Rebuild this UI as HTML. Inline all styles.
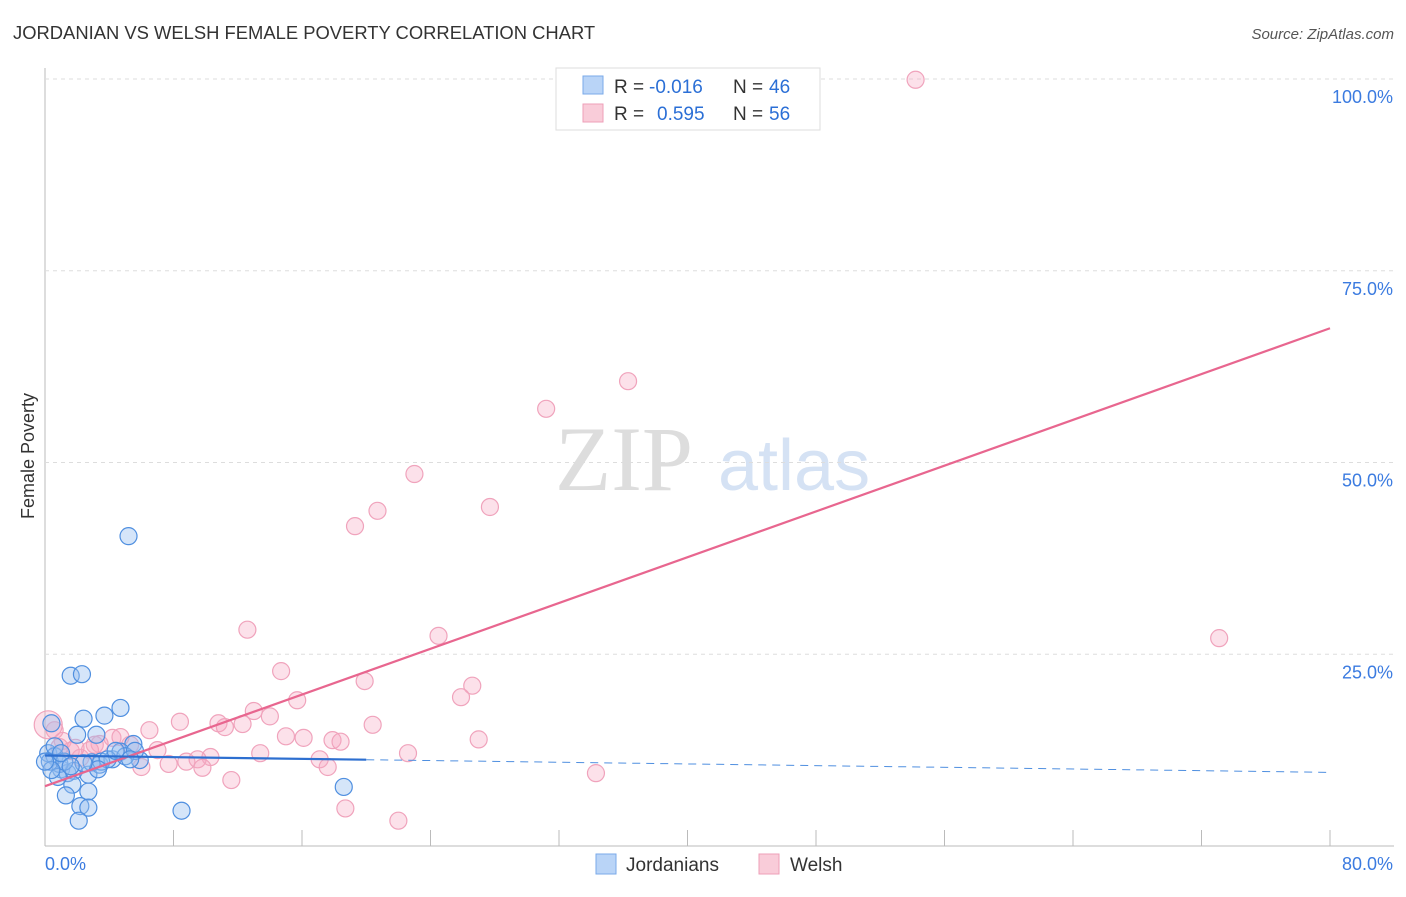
<!DOCTYPE html>
<html><head><meta charset="utf-8"><style>
body{margin:0;background:#fff;font-family:"Liberation Sans",sans-serif}
</style></head><body>
<svg id="c" width="1406" height="892" xmlns="http://www.w3.org/2000/svg">
<text x="13" y="39" font-size="18.4" fill="#333">JORDANIAN VS WELSH FEMALE POVERTY CORRELATION CHART</text>
<text x="1394" y="39" font-size="15" font-style="italic" fill="#555" text-anchor="end">Source: ZipAtlas.com</text>
<text x="34" y="456" font-size="18" fill="#333" text-anchor="middle" transform="rotate(-90 34 456)">Female Poverty</text>
<text x="555" y="490" font-size="92" fill="#ddd" font-family="Liberation Serif,serif">ZIP</text>
<text x="718" y="490" font-size="72" fill="#d5e2f4">atlas</text>
<g id="grid"></g><g id="pts"></g><g id="lines"></g>
<g>
<rect x="556" y="68" width="264" height="62" fill="#fff" stroke="#ddd"/>
<rect x="583" y="76" width="20" height="18" fill="#b9d4f7" stroke="#7aaae8"/>
<rect x="583" y="104" width="20" height="18" fill="#f9ccd9" stroke="#ee9fb8"/>
<text x="614" y="93" font-size="19" fill="#333">R =</text>
<text x="649" y="93" font-size="19" fill="#2b6fd6">-0.016</text>
<text x="733" y="93" font-size="19" fill="#333">N =</text>
<text x="769" y="93" font-size="19" fill="#2b6fd6">46</text>
<text x="614" y="120" font-size="19" fill="#333">R =</text>
<text x="657" y="120" font-size="19" fill="#2b6fd6">0.595</text>
<text x="733" y="120" font-size="19" fill="#333">N =</text>
<text x="769" y="120" font-size="19" fill="#2b6fd6">56</text>
</g>
<g>
<rect x="596" y="854" width="20" height="20" fill="#b9d4f7" stroke="#7aaae8"/>
<text x="626" y="871" font-size="19" fill="#333">Jordanians</text>
<rect x="759" y="854" width="20" height="20" fill="#f9ccd9" stroke="#ee9fb8"/>
<text x="790" y="871" font-size="19" fill="#333">Welsh</text>
</g>
</svg>
<script>
const yTicks=[25,50,75,100];
const yTickLabels=["25.0%","50.0%","75.0%","100.0%"];
const xTicks=[0,8,16,24,32,40,48,56,64,72,80];
const blueX=[5.2,1.6,2.3,4.7,2.4,3.7,2.0,3.2,5.5,0.4,0.2,0.6,1.0,1.4,1.8,2.7,0.9,3.4,4.2,4.7,5.9,1.7,1.3,2.7,2.2,2.7,2.1,8.5,18.6,0.3,0.8,2.9,5.0,5.6,3.5,1.2,0.6,3.9,5.3,3.3,2.4,0.4,1.0,0.0,1.6,4.4];
const blueY=[40.4,22.2,22.4,18.0,16.6,17.0,14.5,14.5,13.3,16.0,12.1,11.7,10.0,9.5,9.8,9.3,10.7,10.6,11.3,12.3,11.2,8.0,6.6,7.1,5.2,5.0,3.3,4.6,7.7,11.0,9.0,10.9,11.7,12.4,11.0,11.0,13.0,11.3,11.3,10.0,10.8,9.9,12.1,11.0,10.4,12.4];
const pinkX=[54.2,36.3,31.2,23.0,27.7,20.7,19.3,12.6,24.5,73.1,14.7,19.9,26.6,15.7,25.9,13.0,14.0,8.4,10.8,11.2,12.3,20.4,6.5,15.0,16.1,17.9,18.4,27.0,13.4,10.3,22.6,7.0,17.1,17.6,8.8,9.5,7.7,6.0,9.8,11.6,34.3,18.7,22.0,4.2,5.3,1.1,1.6,3.1,2.2,0.6,0.2,0.9,3.4,4.7,2.8,1.9];
const pinkY=[99.9,60.6,57.0,48.5,44.2,43.7,41.7,28.2,27.4,27.1,22.8,21.5,20.9,19.0,19.4,17.6,16.9,16.2,16.0,15.5,15.9,15.8,15.1,14.3,14.1,13.8,13.6,13.9,12.1,11.6,12.1,12.5,11.3,10.3,11.0,11.3,10.7,10.3,10.2,8.6,9.5,4.9,3.3,14.1,13.2,13.7,12.4,13.2,11.5,15.1,15.8,12.9,13.3,14.2,12.5,12.8];
const pinkTrend=[7.8,67.5];
const blueTrend=[11.8,9.6];
const NS="http://www.w3.org/2000/svg";
const X=v=>45+v/80*1285, Y=v=>846-v/100*767;
function mk(t,a,p){const e=document.createElementNS(NS,t);for(const k in a)e.setAttribute(k,a[k]);p.appendChild(e);return e;}
const g=document.getElementById('grid');
mk('line',{x1:45,y1:68,x2:45,y2:846,stroke:'#bbb'},g);
mk('line',{x1:45,y1:846,x2:1394,y2:846,stroke:'#bbb'},g);
yTicks.forEach((v,i)=>{
 const l=mk('line',{x1:45,y1:Y(v),x2:1394,y2:Y(v),stroke:'#ddd','stroke-dasharray':'4,4'},g);
 
 
 const t=mk('text',{x:1393,y:Y(v)+24,'font-size':18,fill:'#3b7be0','text-anchor':'end'},g);
 t.textContent=yTickLabels[i];
 
 
});
xTicks.forEach(v=>{
 const l=mk('line',{x1:X(v),y1:830,x2:X(v),y2:846,stroke:'#bbb'},g);
 
 
});
let t=mk('text',{x:45,y:870,'font-size':18,fill:'#3b7be0'},g);t.textContent='0.0%';


t=mk('text',{x:1393,y:870,'font-size':18,fill:'#3b7be0','text-anchor':'end'},g);t.textContent='80.0%';


const p=document.getElementById('pts');
pinkX.forEach((x,i)=>{const c=mk('circle',{cx:X(x),cy:Y(pinkY[i]),r:i==50?14:8.5,fill:'rgba(246,170,195,0.35)',stroke:'#f0a3bc','stroke-width':1.2},p);
 
 });
blueX.forEach((x,i)=>{const c=mk('circle',{cx:X(x),cy:Y(blueY[i]),r:8.5,fill:'rgba(150,190,240,0.4)',stroke:'#4f8fe0','stroke-width':1.2},p);
 
 });
const L=document.getElementById('lines');
let e=mk('line',{x1:X(0),y1:Y(pinkTrend[0]),x2:X(80),y2:Y(pinkTrend[1]),stroke:'#e8668f','stroke-width':2.2},L);


const bAt=v=>blueTrend[0]+(blueTrend[1]-blueTrend[0])*v/80;
e=mk('line',{x1:X(0),y1:Y(bAt(0)),x2:X(20),y2:Y(bAt(20)),stroke:'#2d6fd0','stroke-width':2.2},L);


e=mk('line',{x1:X(20),y1:Y(bAt(20)),x2:X(80),y2:Y(bAt(80)),stroke:'#4f8fe0','stroke-width':1,'stroke-dasharray':'8,6'},L);


</script>
</body></html>
